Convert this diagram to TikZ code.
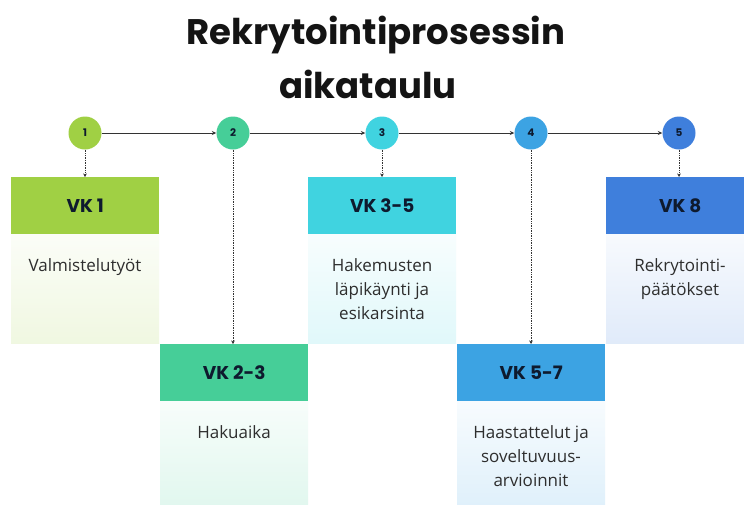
\documentclass[tikz,border=0pt]{standalone}
\usepackage{fontspec}
\setmainfont{Open Sans}
\newfontfamily\pop{Poppins}
\usetikzlibrary{arrows.meta}
\definecolor{cA}{HTML}{A0D044}
\definecolor{cB}{HTML}{46CE98}
\definecolor{cC}{HTML}{40D3E0}
\definecolor{cD}{HTML}{3CA3E3}
\definecolor{cE}{HTML}{3F7FDC}
\definecolor{ink}{HTML}{0E1A2E}
\definecolor{txt}{HTML}{2E2E2E}
\definecolor{lin}{HTML}{333333}
\begin{document}
\begin{tikzpicture}[x=1pt,y=-1pt,
  circ/.style={circle,fill=#1,minimum size=33pt,inner sep=0pt,
    font=\pop\bfseries\fontsize{10.5}{12}\selectfont,text=ink},
  head/.style={rectangle,fill=#1,minimum width=148pt,minimum height=57pt,
    inner sep=0pt,anchor=north west,
    font=\pop\bfseries\fontsize{18.5}{20}\selectfont,text=ink},
  bodyb/.style={rectangle,top color=#1!4,bottom color=#1!16,
    minimum width=148pt,inner sep=0pt,anchor=north west},
  bodytext/.style={anchor=north,align=center,text=txt,
    font=\fontsize{17}{24}\selectfont,inner sep=0pt},
  titletext/.style={anchor=base,text=black!92,
    font=\pop\bfseries\fontsize{35.5}{40}\selectfont,inner sep=0pt},
  flow/.style={-{Stealth[length=4.5pt,width=4pt]},line width=0.7pt,draw=lin},
  drop/.style={-{Stealth[length=3.5pt,width=3.5pt]},line width=0.8pt,
    dash pattern=on 1pt off 0.7pt,draw=lin},
]
\useasboundingbox[fill=white] (0,0) rectangle (744,504);

% title
\node[titletext] (title1) at (376,44) {Rekrytointiprosessin};
\node[titletext] (title2) at (368,98) {aikataulu};

% circles
\node[circ=cA] (c1) at (85,133) {1};
\node[circ=cB] (c2) at (233,133) {2};
\node[circ=cC] (c3) at (382,133) {3};
\node[circ=cD] (c4) at (531,133) {4};
\node[circ=cE] (c5) at (679,133) {5};

% bodies
\node[bodyb=cA,minimum height=109pt] (b1) at (11,234) {};
\node[bodyb=cB,minimum height=103pt] (b2) at (160,401) {};
\node[bodyb=cC,minimum height=109pt] (b3) at (308,234) {};
\node[bodyb=cD,minimum height=103pt] (b4) at (457,401) {};
\node[bodyb=cE,minimum height=109pt] (b5) at (606,234) {};

% headers
\node[head=cA] (h1) at (11,177) {VK 1};
\node[head=cB] (h2) at (160,344) {VK 2-3};
\node[head=cC] (h3) at (308,177) {VK 3-5};
\node[head=cD] (h4) at (457,344) {VK 5-7};
\node[head=cE] (h5) at (606,177) {VK 8};

% body texts
\node[bodytext] (t1) at (85,258) {Valmistelutyöt};
\node[bodytext] (t2) at (234,425) {Hakuaika};
\node[bodytext] (t3) at (382,258) {Hakemusten\\läpikäynti ja\\esikarsinta};
\node[bodytext] (t4) at (531,425) {Haastattelut ja\\soveltuvuus-\\arvioinnit};
\node[bodytext] (t5) at (680,258) {Rekrytointi-\\päätökset};

% connectors
\draw[flow] (c1) -- (c2);
\draw[flow] (c2) -- (c3);
\draw[flow] (c3) -- (c4);
\draw[flow] (c4) -- (c5);
\draw[drop] (c1.south) -- (c1.south |- h1.north);
\draw[drop] (c2.south) -- (c2.south |- h2.north);
\draw[drop] (c3.south) -- (c3.south |- h3.north);
\draw[drop] (c4.south) -- (c4.south |- h4.north);
\draw[drop] (c5.south) -- (c5.south |- h5.north);
\end{tikzpicture}
\end{document}
